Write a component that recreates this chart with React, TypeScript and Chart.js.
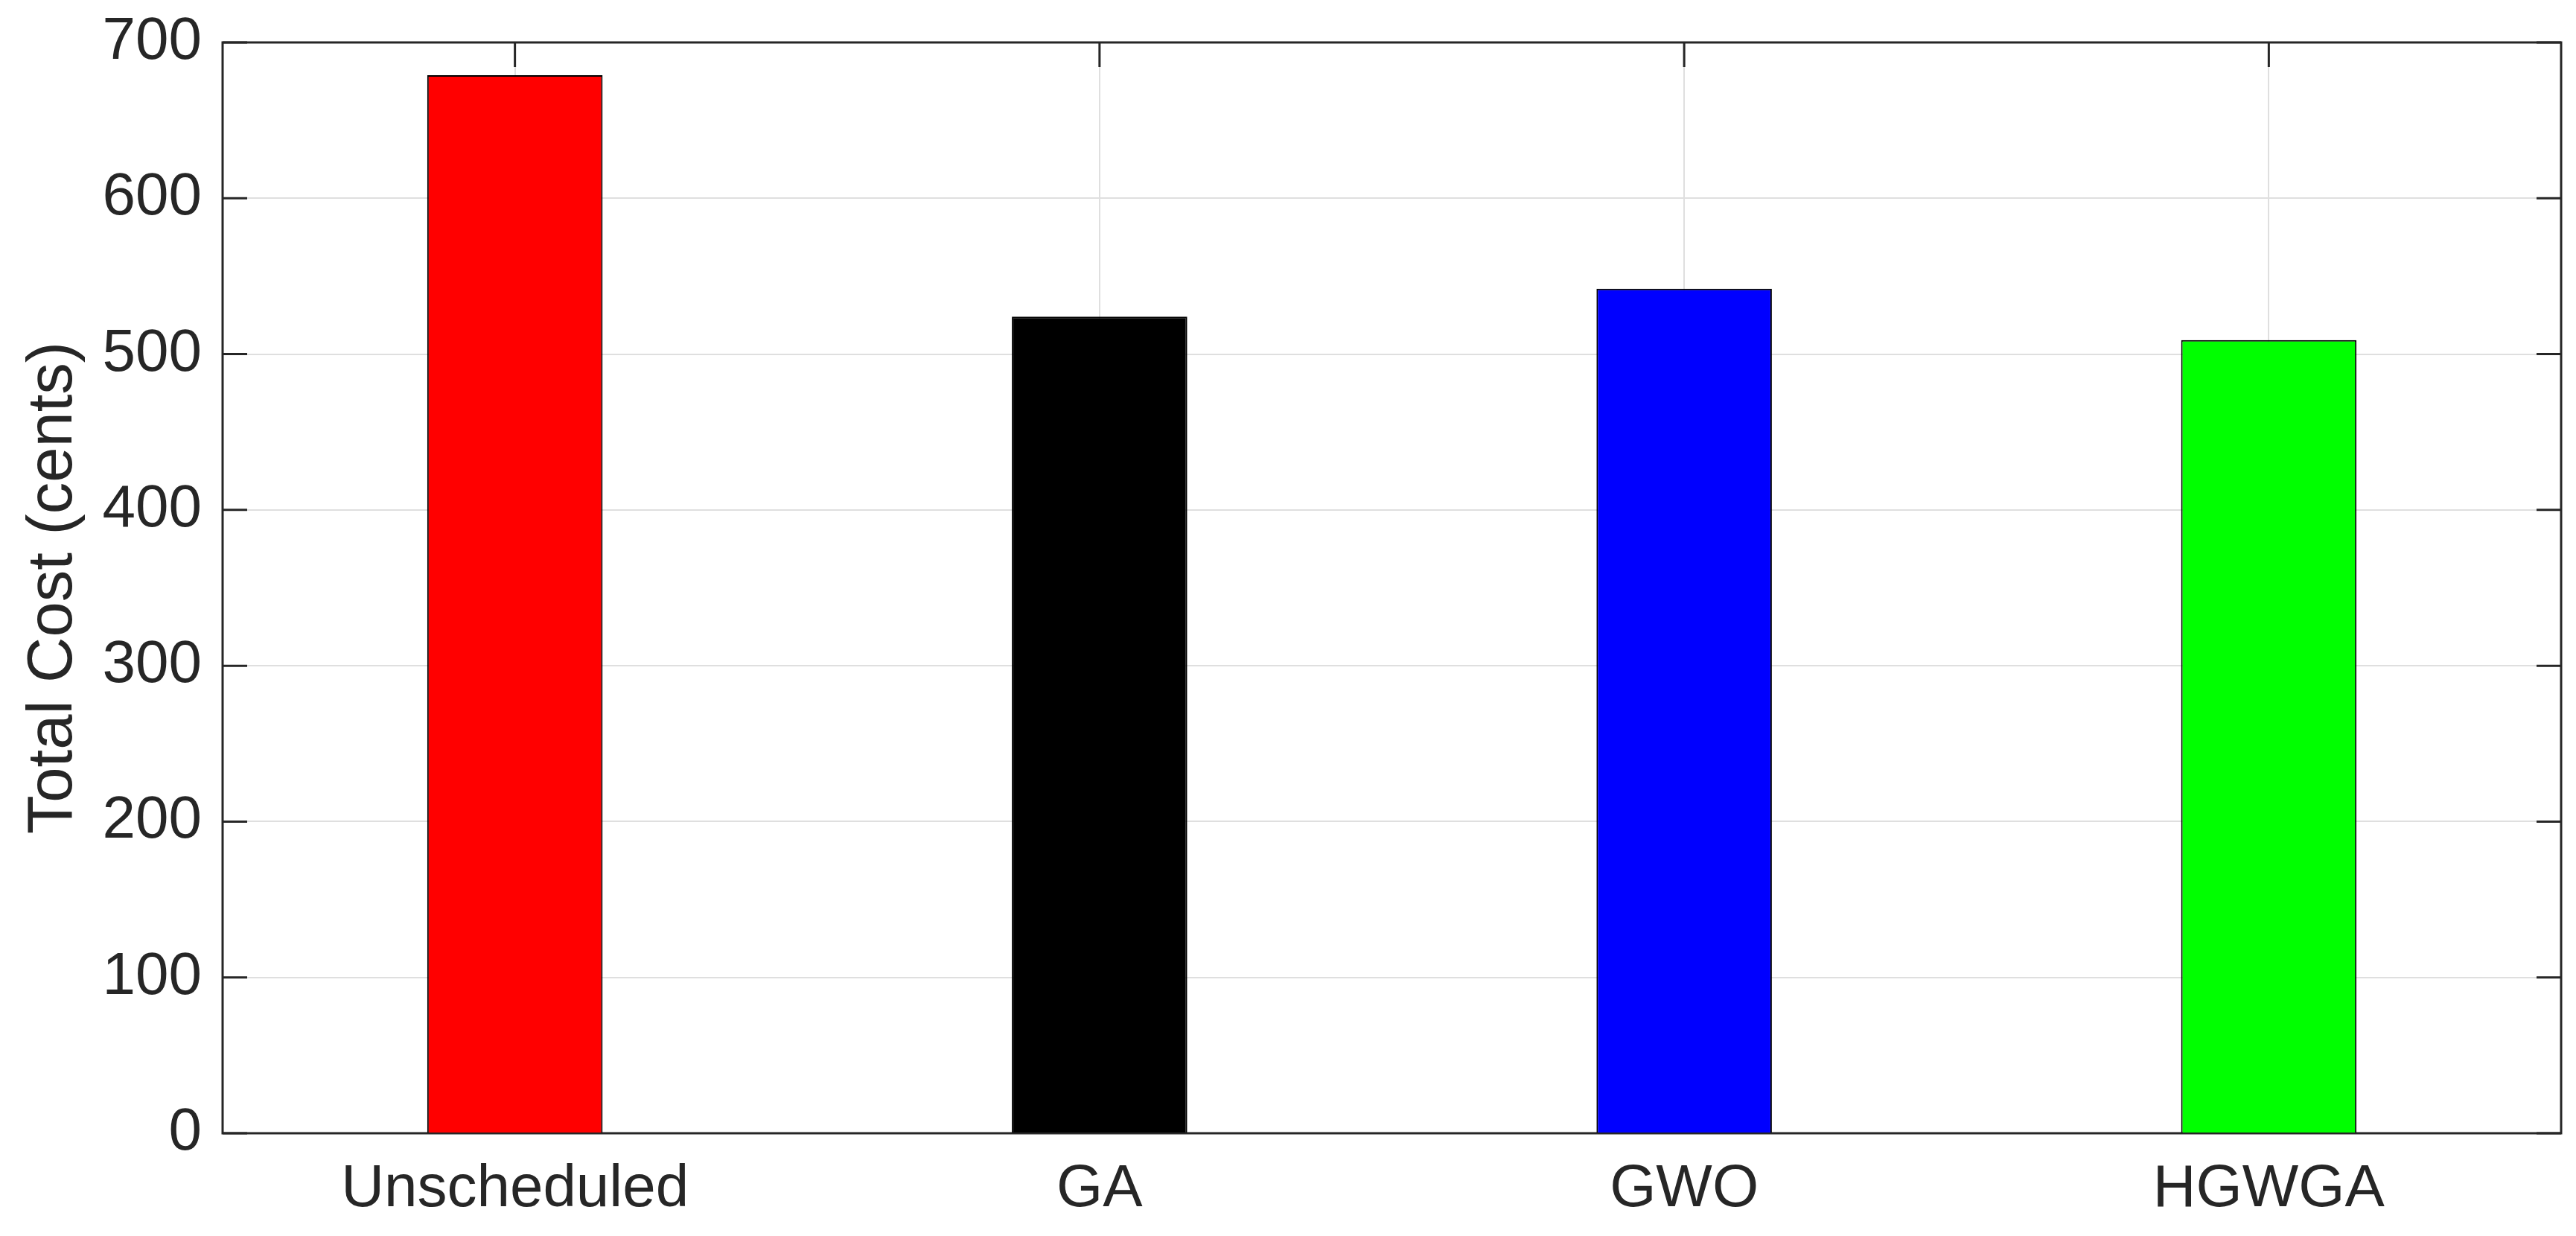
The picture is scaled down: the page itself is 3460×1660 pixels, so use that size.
import React, { useEffect, useRef } from "react";
import { Chart, registerables } from "chart.js";

Chart.register(...registerables);

const categories = ["Unscheduled", "GA", "GWO", "HGWGA"];
const totalCost = [679, 524, 542, 509];
const barColors = ["#ff0000", "#000000", "#0000ff", "#00ff00"];
const yTicks = [0, 100, 200, 300, 400, 500, 600, 700];

const FONT = "'Liberation Sans', Arial, Helvetica, sans-serif";
const AXIS_COLOR = "#262626";

const boxPlugin = {
  id: "matlabBox",
  beforeDatasetsDraw(chart: any) {
    const { ctx, chartArea } = chart;
    const { left, right, top, bottom } = chartArea;
    const yScale = chart.scales.y;
    const xScale = chart.scales.x;
    const tickLen = 33;
    ctx.save();
    ctx.strokeStyle = AXIS_COLOR;
    ctx.lineWidth = 3;
    ctx.beginPath();
    yTicks.forEach((v) => {
      const y = yScale.getPixelForValue(v);
      ctx.moveTo(left, y);
      ctx.lineTo(left + tickLen, y);
      ctx.moveTo(right, y);
      ctx.lineTo(right - tickLen, y);
    });
    categories.forEach((_, i) => {
      const x = xScale.getPixelForValue(i);
      ctx.moveTo(x, top);
      ctx.lineTo(x, top + tickLen);
      ctx.moveTo(x, bottom);
      ctx.lineTo(x, bottom - tickLen);
    });
    ctx.stroke();
    ctx.strokeRect(left, top, right - left, bottom - top);
    ctx.restore();
  },
};

export default function App() {
  const canvasRef = useRef<HTMLCanvasElement | null>(null);

  useEffect(() => {
    if (!canvasRef.current) return;
    const chart = new Chart(canvasRef.current, {
      type: "bar",
      data: {
        labels: categories,
        datasets: [
          {
            data: totalCost,
            backgroundColor: barColors,
            borderColor: "#000000",
            borderWidth: 2,
            barPercentage: 0.3,
            categoryPercentage: 1,
          },
        ],
      },
      options: {
        animation: false,
        responsive: false,
        devicePixelRatio: 1,
        layout: { padding: { top: 57, right: 20, left: 0, bottom: 0 } },
        plugins: {
          legend: { display: false },
          tooltip: { enabled: false },
        },
        scales: {
          x: {
            type: "category",
            offset: true,
            grid: {
              offset: false,
              color: "#dfdfdf",
              lineWidth: 2,
              drawTicks: false,
            },
            border: { display: false },
            ticks: {
              color: AXIS_COLOR,
              font: { family: FONT, size: 80 },
              padding: 28,
              maxRotation: 0,
            },
            afterFit: (s: any) => {
              s.height = 138;
              s.paddingLeft = 0;
              s.paddingRight = 0;
            },
          },
          y: {
            min: 0,
            max: 700,
            grid: {
              color: "#dfdfdf",
              lineWidth: 2,
              drawTicks: false,
            },
            border: { display: false },
            ticks: {
              stepSize: 100,
              color: AXIS_COLOR,
              font: { family: FONT, size: 80 },
              padding: 28,
            },
            title: {
              display: true,
              text: "Total Cost (cents)",
              color: AXIS_COLOR,
              font: { family: FONT, size: 85 },
              padding: { top: 22, bottom: 0 },
            },
            afterFit: (s: any) => {
              s.width = 299;
              s.paddingTop = 0;
              s.paddingBottom = 0;
            },
          },
        },
      },
      plugins: [boxPlugin],
    });
    return () => chart.destroy();
  }, []);

  return (
    <div style={{ position: "fixed", left: 0, top: 0, width: 3460, height: 1660, background: "#ffffff" }}>
      <canvas ref={canvasRef} width={3460} height={1660} style={{ display: "block" }} />
    </div>
  );
}
